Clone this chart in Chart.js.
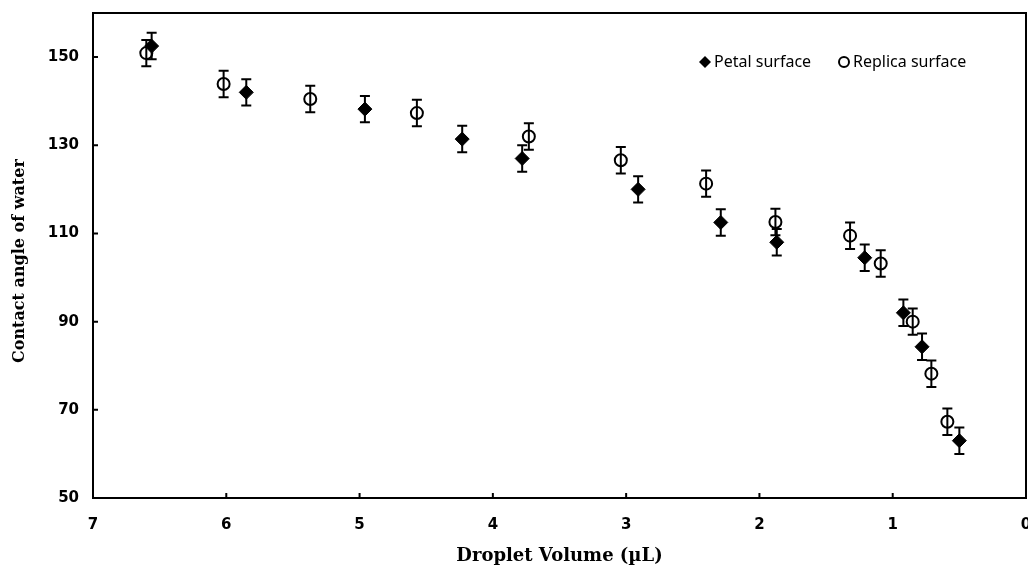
<!DOCTYPE html>
<html lang="en">
<head>
    <meta charset="UTF-8">
    <title>Contact angle vs droplet volume</title>
    <style>
        html, body { margin: 0; padding: 0; background: #fff; overflow: hidden; }
        .wrap { width: 1028px; height: 572px; overflow: hidden; }
        canvas { display: block; }
    </style>
    <script src="https://cdn.jsdelivr.net/npm/chart.js"></script>
</head>
<body>
<div class="wrap">
    <canvas id="myChart" width="1034" height="572"></canvas>
</div>
<script>
    // values
    var petalX   = [6.56, 5.85, 4.96, 4.23, 3.78, 2.91, 2.29, 1.87, 1.21, 0.92, 0.78, 0.50];
    var petalY   = [152.5, 142.0, 138.2, 131.4, 127.0, 120.0, 112.5, 108.0, 104.5, 92.0, 84.3, 63.0];
    var petalErr = [3, 3, 3, 3, 3, 3, 3, 3, 3, 3, 3, 3];

    var replicaX   = [6.60, 6.02, 5.37, 4.57, 3.73, 3.04, 2.40, 1.88, 1.32, 1.09, 0.85, 0.71, 0.59];
    var replicaY   = [150.9, 143.9, 140.5, 137.3, 132.0, 126.6, 121.3, 112.6, 109.5, 103.2, 90.0, 78.2, 67.3];
    var replicaErr = [3, 3, 3, 3, 3, 3, 3, 3, 3, 3, 3, 3, 3];

    var xTicks = [7, 6, 5, 4, 3, 2, 1, 0];
    var yTicks = [50, 70, 90, 110, 130, 150];

    var legendLabels = ['Petal surface', 'Replica surface'];

    function toPoints(xs, ys, errs) {
        var pts = [];
        for (var i = 0; i < xs.length; i++) {
            pts.push({ x: xs[i], y: ys[i], err: errs[i] });
        }
        return pts;
    }

    // error bars, box, inward ticks and legend
    var extras = {
        id: 'extras',
        beforeDatasetsDraw: function (chart) {
            var ctx = chart.ctx;
            var xs = chart.scales.x, ys = chart.scales.y;
            ctx.save();
            ctx.strokeStyle = '#000';
            ctx.lineWidth = 2;
            chart.data.datasets.forEach(function (ds) {
                ds.data.forEach(function (p) {
                    var px = xs.getPixelForValue(p.x);
                    var top = ys.getPixelForValue(p.y + p.err);
                    var bot = ys.getPixelForValue(p.y - p.err);
                    ctx.beginPath();
                    ctx.moveTo(px, top); ctx.lineTo(px, bot);
                    ctx.moveTo(px - 5, top); ctx.lineTo(px + 5, top);
                    ctx.moveTo(px - 5, bot); ctx.lineTo(px + 5, bot);
                    ctx.stroke();
                });
            });
            ctx.restore();
        },
        afterDraw: function (chart) {
            var ctx = chart.ctx;
            var a = chart.chartArea;
            var xs = chart.scales.x, ys = chart.scales.y;
            ctx.save();
            ctx.strokeStyle = '#000';
            ctx.lineWidth = 2;
            ctx.strokeRect(a.left, a.top, a.right - a.left, a.bottom - a.top);
            ctx.beginPath();
            xTicks.forEach(function (v) {
                var px = xs.getPixelForValue(v);
                ctx.moveTo(px, a.bottom); ctx.lineTo(px, a.bottom - 5);
            });
            yTicks.forEach(function (v) {
                var py = ys.getPixelForValue(v);
                ctx.moveTo(a.left, py); ctx.lineTo(a.left + 5, py);
            });
            ctx.stroke();

            // legend
            var ly = a.top + 49;
            var lx1 = a.left + 612;
            var lx2 = a.left + 751;
            ctx.fillStyle = '#000';
            ctx.beginPath();
            ctx.moveTo(lx1, ly - 6); ctx.lineTo(lx1 + 6, ly); ctx.lineTo(lx1, ly + 6); ctx.lineTo(lx1 - 6, ly);
            ctx.closePath();
            ctx.fill();
            ctx.beginPath();
            ctx.arc(lx2, ly, 5, 0, Math.PI * 2);
            ctx.stroke();
            ctx.font = '16px "Noto Sans"';
            ctx.textBaseline = 'middle';
            ctx.fillText(legendLabels[0], lx1 + 9, ly);
            ctx.fillText(legendLabels[1], lx2 + 9, ly);
            ctx.restore();
        }
    };

    var data = {
        datasets: [{
            label: legendLabels[0],
            data: toPoints(petalX, petalY, petalErr),
            pointStyle: 'rectRot',
            pointRadius: 7,
            backgroundColor: '#000',
            borderColor: '#000',
            borderWidth: 1
        }, {
            label: legendLabels[1],
            data: toPoints(replicaX, replicaY, replicaErr),
            pointStyle: 'circle',
            pointRadius: 6,
            backgroundColor: 'rgba(0,0,0,0)',
            borderColor: '#000',
            borderWidth: 2
        }]
    };

    var tickFont = { family: '"DejaVu Sans"', size: 15, weight: 'bold' };

    var config = {
        type: 'scatter',
        data: data,
        options: {
            responsive: false,
            animation: false,
            layout: { padding: { left: 0, right: 2, top: 13, bottom: 0 } },
            plugins: {
                legend: { display: false },
                tooltip: { enabled: false }
            },
            scales: {
                x: {
                    type: 'linear',
                    min: 0, max: 7,
                    reverse: true,
                    afterBuildTicks: function (s) { s.ticks = xTicks.map(function (v) { return { value: v }; }); },
                    afterFit: function (s) {
                        s.height = 74;
                        s.paddingLeft = 0; s.paddingRight = 0; s.paddingTop = 0; s.paddingBottom = 0;
                    },
                    grid: { display: false, drawTicks: false },
                    border: { display: false },
                    ticks: { color: '#000', padding: 18, font: tickFont },
                    title: {
                        display: true,
                        text: 'Droplet Volume (µL)',
                        color: '#000',
                        padding: { top: 0, bottom: 5 },
                        font: { family: '"DejaVu Serif"', size: 18, weight: 'bold' }
                    }
                },
                y: {
                    type: 'linear',
                    min: 50, max: 160,
                    afterBuildTicks: function (s) { s.ticks = yTicks.map(function (v) { return { value: v }; }); },
                    afterFit: function (s) {
                        s.width = 93;
                        s.paddingLeft = 0; s.paddingRight = 0; s.paddingTop = 0; s.paddingBottom = 0;
                    },
                    grid: { display: false, drawTicks: false },
                    border: { display: false },
                    ticks: { color: '#000', padding: 14, font: tickFont },
                    title: {
                        display: true,
                        text: 'Contact angle of water  ',
                        color: '#000',
                        padding: { top: 10, bottom: 0 },
                        font: { family: '"DejaVu Serif"', size: 16, weight: 'bold' }
                    }
                }
            }
        },
        plugins: [extras]
    };

    var myChart = new Chart(document.getElementById('myChart'), config);
</script>
</body>
</html>
